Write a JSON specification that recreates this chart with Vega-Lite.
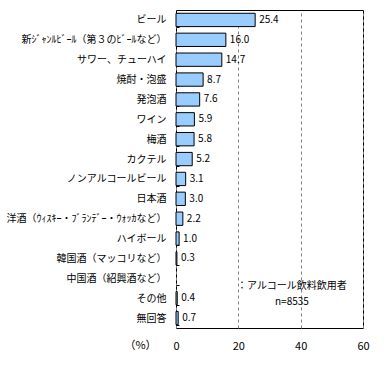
{
  "$schema": "https://vega.github.io/schema/vega-lite/v6.json",
  "width": 187,
  "height": 318,
  "autosize": {"type": "none"},
  "padding": {"left": 176, "top": 10, "right": 29, "bottom": 38},
  "background": "white",
  "config": {
    "view": {"stroke": "black", "strokeWidth": 1},
    "font": "Noto Sans CJK JP",
    "text": {"font": "Noto Sans CJK JP"}
  },
  "datasets": {
    "main": [
      {"cat": "ビール", "value": 25.4},
      {"cat": "新ｼﾞｬﾝﾙﾋﾞｰﾙ（第３のﾋﾞｰﾙなど）", "value": 16.0},
      {"cat": "サワー、チューハイ", "value": 14.7},
      {"cat": "焼酎・泡盛", "value": 8.7},
      {"cat": "発泡酒", "value": 7.6},
      {"cat": "ワイン", "value": 5.9},
      {"cat": "梅酒", "value": 5.8},
      {"cat": "カクテル", "value": 5.2},
      {"cat": "ノンアルコールビール", "value": 3.1},
      {"cat": "日本酒", "value": 3.0},
      {"cat": "洋酒（ｳｨｽｷｰ・ﾌﾞﾗﾝﾃﾞｰ・ｳｫｯｶなど）", "value": 2.2},
      {"cat": "ハイボール", "value": 1.0},
      {"cat": "韓国酒（マッコリなど）", "value": 0.3},
      {"cat": "中国酒（紹興酒など）", "value": null},
      {"cat": "その他", "value": 0.4},
      {"cat": "無回答", "value": 0.7}
    ],
    "note1": [
      {"cat": "中国酒（紹興酒など）", "x": 37.2, "text": "：アルコール飲料飲用者"}
    ],
    "note2": [
      {"cat": "その他", "x": 37.2, "text": "n=8535"}
    ]
  },
  "encoding": {
    "y": {
      "field": "cat",
      "type": "nominal",
      "sort": null,
      "scale": {"paddingInner": 0.33, "paddingOuter": 0.165, "domain": ["ビール", "新ｼﾞｬﾝﾙﾋﾞｰﾙ（第３のﾋﾞｰﾙなど）", "サワー、チューハイ", "焼酎・泡盛", "発泡酒", "ワイン", "梅酒", "カクテル", "ノンアルコールビール", "日本酒", "洋酒（ｳｨｽｷｰ・ﾌﾞﾗﾝﾃﾞｰ・ｳｫｯｶなど）", "ハイボール", "韓国酒（マッコリなど）", "中国酒（紹興酒など）", "その他", "無回答"]},
      "axis": {
        "title": null,
        "domain": false,
        "tickBand": "extent",
        "tickSize": -3,
        "tickColor": "black",
        "labelPadding": 13,
        "labelFontSize": 10,
        "labelColor": "black",
        "labelLimit": 200
      }
    }
  },
  "layer": [
    {
      "data": {"name": "main"},
      "mark": {"type": "bar", "fill": "#99CCFF", "stroke": "black", "strokeWidth": 1},
      "encoding": {
        "x": {
          "field": "value",
          "type": "quantitative",
          "scale": {"domain": [0, 60], "nice": false},
          "axis": {
            "values": [0, 20, 40, 60],
            "grid": true,
            "gridDash": [3, 3],
            "gridColor": "#808080",
            "gridOpacity": 1,
            "domain": false,
            "ticks": false,
            "labelPadding": 12,
            "labelFontSize": 11,
            "labelColor": "black",
            "labelFlush": false,
            "title": "（%）",
            "titleFontSize": 11,
            "titleFontWeight": "normal",
            "titleColor": "black",
            "titleX": -36,
            "titleY": 17,
            "titleBaseline": "middle",
            "titleAlign": "center"
          }
        }
      }
    },
    {
      "data": {"name": "main"},
      "mark": {"type": "text", "align": "left", "dx": 4, "fontSize": 10, "color": "black"},
      "encoding": {
        "x": {"field": "value", "type": "quantitative"},
        "text": {"field": "value", "type": "quantitative", "format": ".1f"}
      }
    },
    {
      "data": {"name": "note1"},
      "mark": {"type": "text", "align": "center", "baseline": "middle", "fontSize": 10, "color": "black"},
      "encoding": {
        "x": {"field": "x", "type": "quantitative"},
        "yOffset": {"value": 14.3},
        "text": {"field": "text"}
      }
    },
    {
      "data": {"name": "note2"},
      "mark": {"type": "text", "align": "center", "baseline": "middle", "fontSize": 10, "color": "black"},
      "encoding": {
        "x": {"field": "x", "type": "quantitative"},
        "yOffset": {"value": 10.5},
        "text": {"field": "text"}
      }
    }
  ]
}
